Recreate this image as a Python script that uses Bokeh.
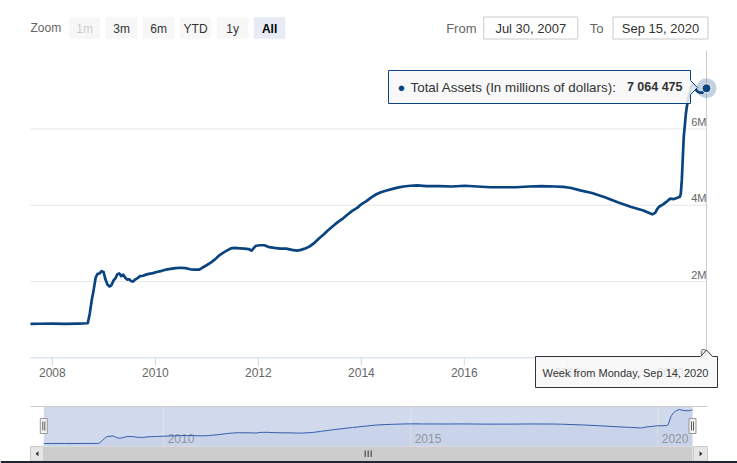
import pandas as pd
from bokeh.plotting import figure
from bokeh.models import Range1d
from bokeh.embed import file_html
from bokeh.resources import INLINE
from bokeh.core.properties import value

# ---------------- data ----------------
dates = [
    "2007-07-30", "2007-10-01", "2007-12-31", "2008-03-31", "2008-06-30", "2008-09-08",
    "2008-09-22", "2008-10-06", "2008-10-20", "2008-11-03", "2008-11-17", "2008-12-01", "2008-12-15", "2008-12-29",
    "2009-01-12", "2009-01-26", "2009-02-09", "2009-02-23", "2009-03-09", "2009-03-23", "2009-04-06", "2009-04-20",
    "2009-05-04", "2009-05-18", "2009-06-01", "2009-06-15", "2009-06-29", "2009-07-13", "2009-07-27", "2009-08-10",
    "2009-08-24", "2009-09-14", "2009-10-05", "2009-10-26", "2009-11-16", "2009-12-14",
    "2010-01-11", "2010-02-15", "2010-03-15", "2010-04-19", "2010-05-24", "2010-06-28", "2010-08-02", "2010-09-06",
    "2010-10-11", "2010-11-08", "2010-11-29", "2010-12-27",
    "2011-01-31", "2011-02-28", "2011-03-28", "2011-04-25", "2011-05-23", "2011-06-20", "2011-07-18", "2011-08-22",
    "2011-09-26", "2011-10-24", "2011-11-14", "2011-12-12",
    "2012-01-09", "2012-02-13", "2012-03-19", "2012-04-23", "2012-06-04", "2012-07-16", "2012-08-27", "2012-10-01",
    "2012-10-29", "2012-12-03", "2012-12-31",
    "2013-02-04", "2013-03-04", "2013-04-08", "2013-05-06", "2013-06-10", "2013-07-15", "2013-08-19", "2013-09-23",
    "2013-10-28", "2013-12-02", "2013-12-30",
    "2014-02-03", "2014-03-10", "2014-04-14", "2014-05-19", "2014-06-23", "2014-08-04", "2014-09-15", "2014-10-27",
    "2014-12-15",
    "2015-02-02", "2015-04-06", "2015-07-06", "2015-10-05",
    "2016-01-04", "2016-04-04", "2016-07-04", "2016-10-03",
    "2017-01-02", "2017-04-03", "2017-07-03", "2017-10-02", "2017-12-04",
    "2018-01-29", "2018-04-02", "2018-06-25", "2018-09-24", "2018-12-24",
    "2019-03-25", "2019-06-24", "2019-08-26", "2019-09-16", "2019-09-30", "2019-10-14", "2019-11-11", "2019-12-02",
    "2019-12-30",
    "2020-01-27", "2020-02-17", "2020-03-09", "2020-03-16", "2020-03-23", "2020-03-30", "2020-04-06", "2020-04-13",
    "2020-04-20", "2020-04-27", "2020-05-11", "2020-05-25", "2020-06-08", "2020-06-22", "2020-07-06", "2020-07-20",
    "2020-08-03", "2020-08-17", "2020-08-31", "2020-09-07", "2020-09-14",
]

# Total assets, millions of dollars
assets = [
    889000, 893000, 895000, 891000, 898000, 905000,
    1150000, 1500000, 1780000, 2100000, 2200000, 2210000, 2270000, 2250000,
    2050000, 1920000, 1870000, 1900000, 2020000, 2080000, 2190000, 2210000,
    2140000, 2180000, 2100000, 2050000, 2060000, 2010000, 2000000, 2050000,
    2080000, 2140000, 2150000, 2180000, 2200000, 2220000,
    2250000, 2280000, 2310000, 2330000, 2350000, 2360000, 2350000, 2320000,
    2310000, 2310000, 2360000, 2420000,
    2500000, 2580000, 2680000, 2750000, 2810000, 2870000, 2880000, 2870000,
    2860000, 2850000, 2810000, 2930000,
    2950000, 2950000, 2900000, 2880000, 2860000, 2860000, 2830000, 2810000,
    2830000, 2870000, 2920000,
    3020000, 3120000, 3230000, 3330000, 3440000, 3550000, 3640000, 3750000,
    3850000, 3930000, 4020000,
    4100000, 4200000, 4280000, 4340000, 4380000, 4420000, 4460000, 4490000,
    4510000,
    4520000, 4500000, 4500000, 4490000,
    4510000, 4490000, 4470000, 4470000,
    4470000, 4490000, 4500000, 4490000, 4480000,
    4450000, 4390000, 4320000, 4210000, 4080000,
    3960000, 3860000, 3760000, 3800000, 3900000, 3960000, 4020000, 4080000,
    4170000,
    4160000, 4190000, 4220000, 4310000, 4670000, 5250000, 5810000, 6080000,
    6370000, 6570000, 6850000, 7030000, 7170000, 7100000, 7000000, 6960000,
    6950000, 6950000, 7010000, 7050000, 7064475,
]
assert len(dates) == len(assets)

series_name = "Total Assets (In millions of dollars)"
x_tick_dates = ["2008-01-01", "2010-01-01", "2012-01-01", "2014-01-01", "2016-01-01", "2018-01-01", "2020-01-01"]
x_tick_labels = ["2008", "2010", "2012", "2014", "2016", "2018", "2020"]
y_tick_values = [0, 2000000, 4000000, 6000000]
y_tick_labels = ["0", "2M", "4M", "6M"]
nav_tick_dates = ["2010-01-01", "2015-01-01", "2020-01-01"]
nav_tick_labels = ["2010", "2015", "2020"]
range_buttons = ["1m", "3m", "6m", "YTD", "1y", "All"]
from_text = "Jul 30, 2007"
to_text = "Sep 15, 2020"
crosshair_text = "Week from Monday, Sep 14, 2020"

# ---------------- layout / style constants (pixels) ----------------
W, H = 737, 463
PL, PR, PT, PB = 30.0, 706.0, 50.0, 357.3      # main plot area
PX_PER_2M = 76.3
NL, NR, NT, NB = 43.3, 692.0, 406.0, 446.0     # navigator
SERIES = "#0a4480"
NAVLINE = "#335cad"
FONT = value("Liberation Sans")


def to_ms(seq):
    return [float(v) for v in (pd.to_datetime(seq).asi8 // 10**6)]


xs = to_ms(dates)
t0, t1 = xs[0], xs[-1]
x_ticks = to_ms(x_tick_dates)
nav_ticks = to_ms(nav_tick_dates)

# main ranges
kx = (t1 - t0) / (PR - PL)
ky = 2000000.0 / PX_PER_2M
x_range = Range1d(t0 - PL * kx, t0 + (W - PL) * kx)
y_range = Range1d(-(H - PB) * ky, PB * ky)

# navigator ranges (data min/max with small padding)
dmin, dmax = min(assets), max(assets)
span = dmax - dmin
nav_lo = dmin - span * 3.0 / 34.0
nav_hi = dmax + span * 3.0 / 34.0
nkx = (t1 - t0) / (NR - NL)
nky = (nav_hi - nav_lo) / (NB - NT)

p = figure(width=W, height=H, x_range=x_range, y_range=y_range,
           output_backend="svg", toolbar_location=None, title=None,
           x_axis_location=None, y_axis_location=None, min_border=0,
           outline_line_color=None, background_fill_color="white", border_fill_color="white")
p.grid.visible = False
p.extra_x_ranges = {"px": Range1d(0, W), "navx": Range1d(t0 - NL * nkx, t0 + (W - NL) * nkx)}
p.extra_y_ranges = {"px": Range1d(H, 0), "navy": Range1d(nav_lo - (H - NB) * nky, nav_hi + NT * nky)}
PX = dict(x_range_name="px", y_range_name="px")

# ---------------- range selector (header) ----------------
p.text(x=[30], y=[27.5], text=["Zoom"], text_font=FONT, text_font_size="12px",
       text_color="#666666", text_align="left", text_baseline="middle", **PX)
bl = [68.3 + 37.0 * i for i in range(len(range_buttons))]
bfill = ["#f7f7f7"] * (len(range_buttons) - 1) + ["#e6ebf5"]
p.quad(left=bl, right=[b + 31.5 for b in bl], top=[16.7] * 6, bottom=[38.3] * 6,
       fill_color=bfill, line_color=None, **PX)
tcol = ["#cccccc"] + ["#333333"] * 4 + ["#000000"]
p.text(x=[b + 15.75 for b in bl[:-1]], y=[28] * 5, text=range_buttons[:-1], text_font=FONT,
       text_font_size="12px", text_color=tcol[:-1], text_align="center", text_baseline="middle", **PX)
p.text(x=[bl[-1] + 15.75], y=[28], text=[range_buttons[-1]], text_font=FONT, text_font_style="bold",
       text_font_size="12px", text_color="#000000", text_align="center", text_baseline="middle", **PX)

p.text(x=[476, 603], y=[27.5, 27.5], text=["From", "To"], text_font=FONT, text_font_size="13px",
       text_color="#666666", text_align="right", text_baseline="middle", **PX)
p.quad(left=[483.3, 612.5], right=[577.3, 707.5], top=[16.5, 16.5], bottom=[38.5, 38.5],
       fill_color="white", line_color="#cccccc", line_width=1, **PX)
p.text(x=[530.3, 660], y=[27.5, 27.5], text=[from_text, to_text], text_font=FONT, text_font_size="13px",
       text_color="#333333", text_align="center", text_baseline="middle", **PX)

# ---------------- main plot ----------------
grid_vals = [v for v in y_tick_values if v > 0]
p.segment(x0=[t0] * len(grid_vals), x1=[t1] * len(grid_vals), y0=grid_vals, y1=grid_vals,
          line_color="#e6e6e6", line_width=1)
# x axis line and ticks
p.segment(x0=[t0], x1=[t1], y0=[0], y1=[0], line_color="#ccd6eb", line_width=1)
p.segment(x0=x_ticks, x1=x_ticks, y0=[0] * len(x_ticks), y1=[-8 * ky] * len(x_ticks),
          line_color="#ccd6eb", line_width=1)
p.text(x=x_ticks, y=[0] * len(x_ticks), text=x_tick_labels, y_offset=15, text_font=FONT,
       text_font_size="12px", text_color="#666666", text_align="center", text_baseline="middle")
# crosshair
p.segment(x0=[t1], x1=[t1], y0=[0], y1=[(PB - PT) * ky], line_color="#cccccc", line_width=1)
# y labels (inside, right)
p.text(x=[t1] * len(y_tick_values), y=y_tick_values, text=y_tick_labels, y_offset=-1, text_font=FONT,
       text_font_size="11px", text_color="#666666", text_align="right", text_baseline="bottom")

# series
p.line(x=xs, y=assets, line_color=SERIES, line_width=2.7, line_join="round")

# ---------------- navigator ----------------
p.quad(left=[NL], right=[NR], top=[NT], bottom=[NB], fill_color="#6685c2", fill_alpha=0.3,
       line_color=None, **PX)
p.segment(x0=nav_ticks, x1=nav_ticks, y0=[NT] * 3, y1=[NB] * 3, line_color="#e6e6e6", line_width=1,
          x_range_name="navx", y_range_name="px")
p.text(x=nav_ticks, y=[437.5] * 3, text=nav_tick_labels, x_offset=4, text_font=FONT, text_font_size="12px",
       text_color="#999999", text_align="left", text_baseline="middle", x_range_name="navx", y_range_name="px")
p.varea(x=xs, y1=[nav_lo] * len(xs), y2=assets, fill_color=NAVLINE, fill_alpha=0.05,
        x_range_name="navx", y_range_name="navy")
p.line(x=xs, y=assets, line_color=NAVLINE, line_width=1, x_range_name="navx", y_range_name="navy")
p.segment(x0=[30], x1=[707], y0=[NT], y1=[NT], line_color="#cccccc", line_width=1, **PX)
# handles
p.quad(left=[NL - 3.5, NR - 3.5], right=[NL + 3.5, NR + 3.5], top=[418, 418], bottom=[433, 433],
       fill_color="#f2f2f2", line_color="#999999", line_width=1, **PX)
p.segment(x0=[NL - 1, NL + 1, NR - 1, NR + 1], x1=[NL - 1, NL + 1, NR - 1, NR + 1],
          y0=[421] * 4, y1=[430] * 4, line_color="#333333", line_width=0.8, **PX)

# ---------------- scrollbar ----------------
p.quad(left=[30], right=[707], top=[NB], bottom=[460.5], fill_color="#f2f2f2", line_color=None, **PX)
p.quad(left=[NL], right=[NR], top=[NB], bottom=[460.5], fill_color="#cccccc", line_color=None, **PX)
p.quad(left=[30, 693], right=[43, 707], top=[NB, NB], bottom=[460.5, 460.5], fill_color="#e6e6e6",
       line_color="#cccccc", line_width=1, **PX)
p.patches(xs=[[35, 38, 38], [699, 699, 702]], ys=[[453.3, 450.8, 455.8], [450.8, 455.8, 453.3]],
          fill_color="#333333", line_color=None, **PX)
cx = (NL + NR) / 2
p.segment(x0=[cx - 3, cx, cx + 3], x1=[cx - 3, cx, cx + 3], y0=[450] * 3, y1=[456.5] * 3,
          line_color="#333333", line_width=1, **PX)
p.quad(left=[0], right=[W], top=[460.5], bottom=[H], fill_color="#1f2733", line_color=None, **PX)

# ---------------- hover state: marker + tooltips ----------------
p.scatter(x=[t1], y=[assets[-1]], size=20, fill_color=SERIES, fill_alpha=0.25, line_color=None)
p.scatter(x=[t1], y=[assets[-1]], size=9, fill_color=SERIES, line_color="white", line_width=1)

# main tooltip
p.patch(x=[388, 690, 690, 697, 690, 690, 388], y=[70, 70, 80, 87, 94, 103, 103],
        fill_color="#f7f7f7", fill_alpha=0.85, line_color=SERIES, line_width=1, **PX)
p.text(x=[401], y=[86.5], text=["\u25cf"], text_font=FONT, text_font_size="13px", text_color=SERIES,
       text_align="center", text_baseline="middle", **PX)
p.text(x=[410], y=[86.5], text=[series_name + ":"], text_font=FONT, text_font_size="13.4px",
       text_color="#333333", text_align="left", text_baseline="middle", **PX)
val_txt = f"{int(assets[-1]):,}".replace(",", " ")
p.text(x=[682], y=[86.5], text=[val_txt], text_font=FONT, text_font_size="12.5px", text_font_style="bold",
       text_color="#333333", text_align="right", text_baseline="middle", **PX)

# crosshair label
p.patch(x=[535, 700, 706, 712, 717, 717, 535], y=[356, 356, 349.5, 356, 356, 387, 387],
        fill_color="#f7f7f7", fill_alpha=0.85, line_color="#333333", line_width=1, **PX)
p.text(x=[625], y=[372.5], text=[crosshair_text], text_font=FONT, text_font_size="11px",
       text_color="#333333", text_align="center", text_baseline="middle", **PX)

open("out.html", "w").write(file_html(p, INLINE))
